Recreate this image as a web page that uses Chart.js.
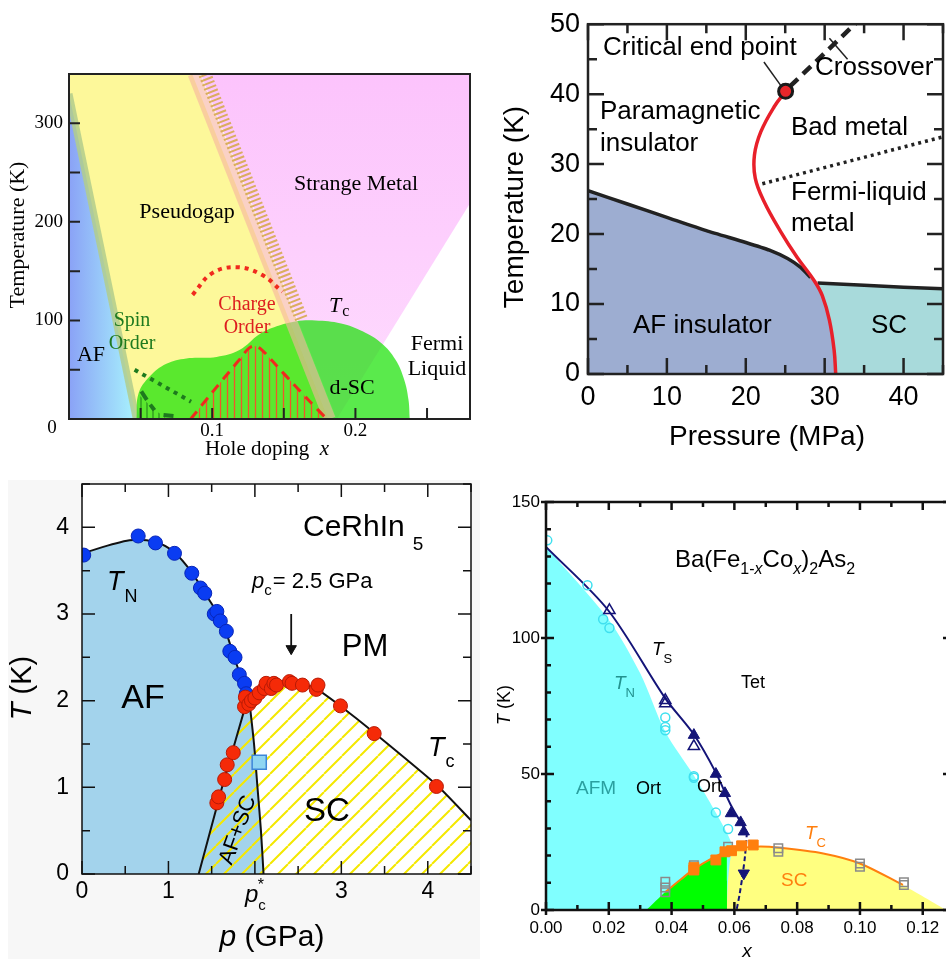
<!DOCTYPE html>
<html>
<head>
<meta charset="utf-8">
<title>Phase diagrams</title>
<script src="https://cdn.jsdelivr.net/npm/chart.js@4.4.1/dist/chart.umd.min.js"></script>
<style>
  html, body { margin: 0; padding: 0; background: #fff; overflow: hidden; }
  #page { position: relative; width: 946px; height: 959px; overflow: hidden; }
  #page canvas { position: absolute; left: 0; top: 0; }
  #grey { position: absolute; left: 8px; top: 480px; width: 472px; height: 479px; background: #f7f7f7; }
</style>
</head>
<body>
<div id="page">
  <div id="grey"></div>
  <canvas id="cuprate" width="960" height="959"></canvas>
  <canvas id="pressure" width="960" height="959"></canvas>
  <canvas id="cerhin" width="960" height="959"></canvas>
  <canvas id="bafeco" width="960" height="959"></canvas>
</div>
<script>
const SERIF = "'Liberation Serif', 'Times New Roman', serif";
const SANS = "'Liberation Sans', Arial, sans-serif";

// ---- top left: cuprates, T vs hole doping ----
const cuAfEdge = [[0, 330], [0.047, 0]];
const cuPseudogap = [[0, 350], [0.086, 350], [0.181, 0]];
const cuStrangeMetal = [[0.092, 350], [0.187, 0], [0.28, 219]];
const cuTstarBand = [[0.087, 350], [0.182, 0]];
const cuTstarHatch = [[0.0948, 350], [0.1627, 100]];
const cuScDome = [[0.047, 0], [0.0486, 26], [0.0563, 43], [0.068, 56], [0.082, 61.5], [0.103, 63], [0.119, 70], [0.133, 86], [0.145, 94], [0.158, 99], [0.172, 100], [0.19, 97], [0.205, 89], [0.218, 77], [0.228, 60], [0.234, 40], [0.237, 20], [0.238, 0]];
const cuChargeOrder = [[0.085, 0], [0.1, 27], [0.112, 48], [0.12, 62], [0.125, 71], [0.129, 74], [0.134, 71], [0.145, 54], [0.157, 35], [0.168, 18], [0.18, 0]];
const cuChargeOnset = [[0.0863, 126], [0.1, 148], [0.1176, 154], [0.135, 146], [0.149, 129]];
const cuSpinDotted = [[0.0458, 50], [0.0852, 17.6]];
const cuSpinDashed = [[0.0505, 28], [0.0555, 17], [0.0597, 9], [0.063, null], [0.066, 4], [0.073, 3]];
const cuSpinGlass = [[0.047, 0], [0.049, 24], [0.055, 16], [0.06, 9], [0.066, 3], [0.068, 0]];

// ---- top right: T vs pressure ----
const ctAfLine = [[0, 26.2], [5, 24.3], [10, 22.4], [15, 20.5], [20, 18.8], [23, 17.7], [25.3, 16.5], [27, 15.2], [28.2, 13.8]];
const ctScLine = [[29.1, 13.0], [35, 12.7], [40, 12.4], [45, 12.2]];
const ctFirstOrder = [[25.05, 40.4], [23.6, 38.2], [21.9, 34.6], [21.1, 31.3], [21.2, 28], [22.3, 24.7], [24.4, 20.4], [26.5, 16.7], [28.7, 13.3], [29.7, 11.2], [30.6, 7.7], [31.2, 3.4], [31.4, 0]];
const ctFermiLiquid = [[22.1, 27.2], [45, 33.9]];
const ctCrossover = [[25.6, 41.1], [34, 50.2]];
const ctEndPoint = [[25.05, 40.4]];
const ctPointerEnd = [[22.3, 44.6], [24.4, 41.3]];
const ctPointerCross = [[32.9, 45.0], [30.6, 48.0]];

// ---- bottom left: CeRhIn5 ----
const ceTnPoints = [[0.02, 3.68], [0.65, 3.9], [0.85, 3.82], [1.07, 3.7], [1.27, 3.47], [1.37, 3.3], [1.42, 3.24], [1.53, 3.0], [1.56, 3.03], [1.6, 2.92], [1.67, 2.8], [1.71, 2.57], [1.77, 2.5], [1.82, 2.3], [1.88, 2.2], [1.9, 2.08]];
const ceTcPoints = [[1.56, 0.82], [1.58, 0.89], [1.65, 1.09], [1.68, 1.26], [1.75, 1.4], [1.88, 1.93], [1.89, 2.04], [1.93, 1.96], [1.96, 2.0], [2.0, 2.03], [2.05, 2.09], [2.11, 2.14], [2.13, 2.2], [2.19, 2.14], [2.22, 2.2], [2.25, 2.18], [2.4, 2.22], [2.43, 2.2], [2.55, 2.18], [2.71, 2.13], [2.73, 2.18], [2.99, 1.94], [3.38, 1.62], [4.1, 1.01]];
const ceTnLine = [[0, 3.7], [0.55, 3.85], [0.85, 3.83], [1.07, 3.71], [1.27, 3.48], [1.42, 3.24], [1.56, 3.02], [1.67, 2.78], [1.76, 2.5], [1.84, 2.27], [1.9, 2.06], [1.94, 1.96]];
const ceAfScEdge = [[1.35, 0], [1.62, 1.0], [1.88, 1.9]];
const cePstarLine = [[1.94, 1.96], [1.99, 1.5], [2.03, 1.0], [2.07, 0.5], [2.1, 0]];
const ceTcLine = [[1.9, 2.02], [2.0, 2.09], [2.12, 2.17], [2.25, 2.21], [2.4, 2.23], [2.55, 2.19], [2.72, 2.13], [3.0, 1.93], [3.38, 1.63], [4.1, 1.03], [4.5, 0.62]];
const ceSquare = [[2.05, 1.29]];
const ceArrow = [[2.42, 3.0], [2.42, 2.6]];
const ceArrowHead = [[2.42, 2.6]];

// ---- bottom right: Ba(Fe1-xCox)2As2 ----
const bcTnOpen = [[0.0004, 135.9], [0.0132, 119.4], [0.0182, 106.9], [0.0202, 103.7], [0.038, 70.8], [0.038, 67.3], [0.038, 66.1], [0.0471, 49.2], [0.0471, 48.6], [0.0541, 35.8], [0.058, 29.8]];
const bcTsOpen = [[0.0202, 110.2], [0.038, 77.1], [0.038, 75.9], [0.0471, 60.2]];
const bcTsFilled = [[0.0471, 64.3], [0.0541, 50.0], [0.057, 42.9], [0.0589, 35.5], [0.062, 32.2], [0.063, 28.8]];
const bcTsDown = [[0.063, 13.5]];
const bcTcFilled = [[0.0471, 15.6], [0.0471, 14.7], [0.0541, 18.4], [0.057, 21.4], [0.0591, 21.8], [0.0623, 23.6], [0.066, 23.9]];
const bcTcOpen = [[0.038, 10.4], [0.038, 8.3], [0.038, 6.5], [0.0471, 16.5], [0.0471, 14.7], [0.058, 23.3], [0.074, 22.7], [0.074, 21.4], [0.1, 17.1], [0.1, 15.9], [0.114, 10.2], [0.114, 9.2]];
const bcTsLine = [[0, 133.5], [0.0198, 110.2], [0.038, 77.8], [0.0471, 64.5], [0.0541, 50.5], [0.0589, 38.5], [0.064, 28.5]];
const bcTsDashed = [[0.064, 28.5], [0.0634, 20], [0.0627, 13.5], [0.0617, 6], [0.0607, 0]];
const bcTcLine = [[0.0379, 6.5], [0.043, 11.3], [0.0471, 15], [0.0527, 18.9], [0.0586, 22], [0.0671, 23.3], [0.0745, 22.9], [0.0883, 20.8], [0.1, 17.1], [0.1137, 9.2]];
const bcAfmEdge = [[0, 133.5], [0.0198, 107], [0.03, 87], [0.038, 65.5], [0.047, 49.6], [0.053, 38], [0.058, 27.5], [0.0596, 22], [0.0596, 0]];
const bcScEdge = [[0.0576, 0], [0.058, 11], [0.0596, 22], [0.0671, 23.3], [0.0745, 22.9], [0.0883, 20.8], [0.1, 17.1], [0.1137, 9.2], [0.1275, 0]];
const bcGreen = [[0.032, 0], [0.0379, 6.5], [0.043, 11.3], [0.0471, 15], [0.0527, 18.9], [0.0596, 22], [0.058, 11], [0.0576, 0]];

// =====================================================================

const pts = a => a.map(([x, y]) => ({ x, y }));
const near = (v, t) => Math.abs(v - t) < 1e-9;

function area(data, color, fill = 'origin', extra = {}) {
  return { data: pts(data), backgroundColor: color, borderColor: 'transparent', borderWidth: 0, pointRadius: 0, fill, tension: 0, clip: 0, ...extra };
}
function curve(data, color, width, extra = {}) {
  return { data: pts(data), borderColor: color, borderWidth: width, pointRadius: 0, fill: false, tension: 0, clip: 0, ...extra };
}
function marks(data, style, radius, fillColor, edgeColor, edge, extra = {}) {
  return { data: pts(data), showLine: false, pointStyle: style, pointRadius: radius, backgroundColor: fillColor, borderColor: edgeColor, borderWidth: edge, clip: 0, ...extra };
}

function tile(w, h, color, lw, diag) {
  const c = document.createElement('canvas');
  c.width = w; c.height = h;
  const g = c.getContext('2d');
  g.strokeStyle = color; g.lineWidth = lw;
  g.beginPath();
  if (diag) {
    for (const k of [-w, 0, w]) { g.moveTo(k, h); g.lineTo(k + w, 0); }
  } else {
    g.moveTo(w / 2, 0); g.lineTo(w / 2, h);
  }
  g.stroke();
  return c;
}
const pattern = t => ctx => ctx.chart.ctx.createPattern(t, 'repeat');

function hGradient(x0, x1, c0, c1) {
  return ctx => {
    const ch = ctx.chart;
    if (!ch.chartArea) return c0;
    const sx = ch.scales.x;
    const g = ch.ctx.createLinearGradient(sx.getPixelForValue(x0), 0, sx.getPixelForValue(x1), 0);
    g.addColorStop(0, c0); g.addColorStop(1, c1);
    return g;
  };
}
function vGradient(y0, y1, c0, c1) {
  return ctx => {
    const ch = ctx.chart;
    if (!ch.chartArea) return c0;
    const sy = ch.scales.y;
    const g = ch.ctx.createLinearGradient(0, sy.getPixelForValue(y0), 0, sy.getPixelForValue(y1));
    g.addColorStop(0, c0); g.addColorStop(1, c1);
    return g;
  };
}

// frame with inward ticks, drawn from the scale ticks
const framePlugin = {
  id: 'frame',
  beforeDraw(chart, args, o) {
    if (!o.bg) return;
    const { ctx, chartArea: a } = chart;
    ctx.save();
    ctx.fillStyle = o.bg;
    ctx.fillRect(a.left, a.top, a.width, a.height);
    ctx.restore();
  },
  afterDatasetsDraw(chart, args, o) {
    if (!o.width) return;
    const { ctx, chartArea: a, scales: { x, y } } = chart;
    const isMajor = (v, step) => Math.abs(v / step - Math.round(v / step)) < 1e-6;
    ctx.save();
    ctx.strokeStyle = o.color;
    ctx.lineWidth = o.tickWidth || o.width;
    ctx.beginPath();
    for (const t of x.ticks) {
      const p = x.getPixelForValue(t.value);
      const big = isMajor(t.value, o.xMajor);
      const len = big ? o.major : o.minor;
      const out = big ? (o.out || 0) : 0;
      ctx.moveTo(p, a.bottom + out); ctx.lineTo(p, a.bottom - len);
      if (o.mirror) { ctx.moveTo(p, a.top); ctx.lineTo(p, a.top + len); }
    }
    for (const t of y.ticks) {
      const p = y.getPixelForValue(t.value);
      const big = isMajor(t.value, o.yMajor);
      const len = big ? o.major : o.minor;
      const out = big ? (o.out || 0) : 0;
      ctx.moveTo(a.left - out, p); ctx.lineTo(a.left + len, p);
      if (o.mirror && (big || !o.rightMajorOnly)) { ctx.moveTo(a.right + out, p); ctx.lineTo(a.right - len, p); }
    }
    ctx.stroke();
    ctx.lineWidth = o.width;
    ctx.strokeRect(a.left, a.top, a.width, a.height);
    ctx.restore();
  }
};

// rich text labels: parts are [text, font, dy, dx]
const notesPlugin = {
  id: 'notes',
  afterDraw(chart, args, o) {
    const ctx = chart.ctx;
    for (const n of o.items || []) {
      ctx.save();
      ctx.fillStyle = n.color || '#000';
      ctx.textBaseline = 'middle';
      let w = 0;
      const parts = n.parts.map(([t, f, dy = 0, dx = 0]) => {
        ctx.font = f;
        const pw = ctx.measureText(t).width;
        w += pw + dx;
        return { t, f, dy, dx, pw };
      });
      ctx.translate(n.x, n.y);
      if (n.rot) ctx.rotate(n.rot * Math.PI / 180);
      let x = n.align === 'left' ? 0 : -w / 2;
      for (const p of parts) {
        x += p.dx;
        ctx.font = p.f;
        ctx.fillText(p.t, x, p.dy);
        x += p.pw;
      }
      ctx.restore();
    }
  }
};
Chart.register(framePlugin, notesPlugin);

function lin(min, max, step, label, font, pad) {
  return {
    type: 'linear', min, max,
    border: { display: false },
    grid: { display: false, drawTicks: false },
    ticks: { stepSize: step, includeBounds: false, autoSkip: false, maxRotation: 0, padding: pad, color: '#000', font, callback: label }
  };
}

const AXIS_H = 40;
function makeChart(id, area, xs, ys, datasets, frame, notes) {
  const axisW = Math.min(area[0], 80);
  xs.afterFit = s => { s.height = AXIS_H; };
  ys.afterFit = s => { s.width = axisW; };
  return new Chart(document.getElementById(id), {
    type: 'line',
    data: { datasets: datasets.reverse() },
    options: {
      responsive: false,
      animation: false,
      events: [],
      layout: { padding: { left: area[0] - axisW, top: area[1], right: 960 - area[2], bottom: 959 - area[3] - AXIS_H } },
      plugins: { legend: { display: false }, tooltip: { enabled: false }, frame, notes: { items: notes } },
      scales: { x: xs, y: ys }
    }
  });
}

const txt = (x, y, s, font, color = '#000', align = 'center', rot = 0) => ({ x, y, parts: [[s, font]], color, align, rot });

// ---------------- top left ----------------
const cuSerif = size => `${size}px ${SERIF}`;
makeChart('cuprate', [69, 74, 470, 419],
  lin(0, 0.28, 0.05, v => near(v, 0.1) ? '0.1' : near(v, 0.2) ? '0.2' : '', { family: SERIF, size: 19 }, 1),
  lin(0, 350, 50, v => v > 0 && v % 100 === 0 ? v : '', { family: SERIF, size: 19 }, 6),
  [
    area(cuPseudogap, '#fdf89a'),
    area(cuStrangeMetal, vGradient(350, 0, '#fcc3fc', '#fedcfe'), 'end'),
    area(cuAfEdge, hGradient(0, 0.047, '#8aa2f6', '#a8f3fd')),
    curve(cuAfEdge, 'rgba(178,204,140,0.85)', 7),
    area(cuScDome, 'rgba(20,225,0,0.7)', 'origin', { tension: 0.4 }),
    area(cuSpinGlass, pattern(tile(6, 6, 'rgba(25,110,25,0.75)', 1.2))),
    area(cuChargeOrder, pattern(tile(7, 6, '#f2552a', 1.3)), 'origin', { tension: 0.3 }),
    curve(cuTstarBand, 'rgba(246,178,160,0.6)', 12),
    curve(cuTstarHatch, 'rgba(214,170,80,0.9)', 13, { borderDash: [2, 2.5] }),
    curve(cuChargeOrder, '#f02a1e', 3, { borderDash: [10, 7], tension: 0.3 }),
    curve(cuChargeOnset, '#f02a1e', 4, { borderDash: [4, 5], tension: 0.4 }),
    curve(cuSpinDotted, '#1e7a1e', 4, { borderDash: [4, 5] }),
    curve(cuSpinDashed, '#1e7a1e', 4, { borderDash: [10, 6], tension: 0.3 })
  ],
  { width: 2, color: '#222', major: 11, minor: 11, xMajor: 0.1, yMajor: 100 },
  [
    txt(356, 184, 'Strange Metal', cuSerif(22)),
    txt(187, 212, 'Pseudogap', cuSerif(22)),
    txt(91, 355, 'AF', cuSerif(22)),
    txt(132, 321, 'Spin', cuSerif(20), '#1e7a1e'),
    txt(132, 344, 'Order', cuSerif(20), '#1e7a1e'),
    txt(247, 305, 'Charge', cuSerif(20), '#dd1f1f'),
    txt(247, 328, 'Order', cuSerif(20), '#dd1f1f'),
    { x: 329, y: 306, align: 'left', parts: [['T', `italic ${cuSerif(22)}`], ['c', cuSerif(16), 6, 1]] },
    txt(437, 344, 'Fermi', cuSerif(22)),
    txt(437, 369, 'Liquid', cuSerif(22)),
    txt(352, 388, 'd-SC', cuSerif(22)),
    txt(52, 428, '0', cuSerif(19)),
    txt(18, 235, 'Temperature (K)', cuSerif(22), '#000', 'center', -90),
    { x: 267, y: 449, parts: [['Hole doping  ', cuSerif(21)], ['x', `italic ${cuSerif(21)}`]] }
  ]);

// ---------------- top right ----------------
const ctSans = size => `${size}px ${SANS}`;
makeChart('pressure', [588, 22, 943, 374],
  lin(0, 45, 5, v => v % 10 === 0 ? v : '', { family: SANS, size: 27 }, 7),
  lin(0, 50, 5, v => v % 10 === 0 ? v : '', { family: SANS, size: 27 }, 8),
  [
    area(ctFirstOrder.slice(8, 9).concat(ctScLine), '#a8dadb'),
    area(ctAfLine.concat(ctFirstOrder.slice(8)), '#9dadd1', 'origin', { tension: 0.2 }),
    curve(ctAfLine, '#222', 3.5, { tension: 0.2 }),
    curve(ctScLine, '#222', 3.5),
    curve(ctFermiLiquid, '#222', 3.5, { borderDash: [3, 4] }),
    curve(ctCrossover, '#222', 4.5, { borderDash: [11, 7] }),
    curve(ctPointerEnd, '#222', 1.5),
    curve(ctPointerCross, '#222', 1.5),
    curve(ctFirstOrder, '#e8202a', 3.5, { tension: 0.4 }),
    marks(ctEndPoint, 'circle', 7, '#e8262a', '#1a1a1a', 3)
  ],
  { width: 2.5, color: '#222', major: 16, minor: 9, mirror: true, xMajor: 10, yMajor: 10 },
  [
    txt(603, 48, 'Critical end point', ctSans(26), '#000', 'left'),
    txt(815, 68, 'Crossover', ctSans(26), '#000', 'left'),
    txt(600, 112, 'Paramagnetic', ctSans(26), '#000', 'left'),
    txt(600, 144, 'insulator', ctSans(26), '#000', 'left'),
    txt(791, 128, 'Bad metal', ctSans(26), '#000', 'left'),
    txt(791, 193, 'Fermi-liquid', ctSans(26), '#000', 'left'),
    txt(791, 224, 'metal', ctSans(26), '#000', 'left'),
    txt(633, 326, 'AF insulator', ctSans(26), '#000', 'left'),
    txt(871, 326, 'SC', ctSans(26), '#000', 'left'),
    txt(515, 207, 'Temperature (K)', ctSans(28), '#000', 'center', -90),
    txt(767, 437, 'Pressure (MPa)', ctSans(28))
  ]);

// ---------------- bottom left ----------------
makeChart('cerhin', [82, 484, 471, 874],
  lin(0, 4.5, 0.5, v => [0, 1, 3, 4].some(t => near(v, t)) ? String(Math.round(v)) : '', { family: SANS, size: 23 }, 4),
  lin(0, 4.5, 0.5, v => near(v, Math.round(v)) ? String(Math.round(v)) : '', { family: SANS, size: 23 }, 13),
  [
    area(ceTnLine.concat(cePstarLine.slice(1)), '#a3d3ec', 'origin', { tension: 0.2 }),
    area(ceAfScEdge.concat(ceTcLine), pattern(tile(18, 18, '#f4e800', 2, true)), 'origin', { tension: 0.2 }),
    curve(ceTnLine, '#111', 2, { tension: 0.3 }),
    curve(ceAfScEdge, '#111', 2),
    curve(cePstarLine, '#111', 2, { tension: 0.3 }),
    curve(ceTcLine, '#111', 2, { tension: 0.2 }),
    curve(ceArrow, '#111', 1.8),
    marks(ceArrowHead, 'triangle', 6, '#111', '#111', 1, { pointRotation: 180 }),
    marks(ceTnPoints, 'circle', 7, '#0a3cf2', '#0826b8', 1),
    marks(ceTcPoints, 'circle', 7, '#f52a08', '#b81a05', 1),
    marks(ceSquare, 'rect', 10, '#8fd6f2', '#3d86d8', 1.5)
  ],
  { bg: '#fff', width: 1.5, color: '#111', major: 13, minor: 8, mirror: true, xMajor: 1, yMajor: 1 },
  [
    { x: 303, y: 528, align: 'left', parts: [['CeRhIn', ctSans(30)], ['5', ctSans(19), 17, 8]] },
    { x: 107, y: 582, align: 'left', parts: [['T', `italic ${ctSans(27)}`], ['N', ctSans(18), 15, 1]] },
    { x: 252, y: 582, align: 'left', parts: [['p', `italic ${ctSans(22)}`], ['c', ctSans(15), 9], ['= 2.5 GPa', ctSans(22), 0, 1]] },
    txt(365, 647, 'PM', ctSans(31)),
    txt(143, 699, 'AF', ctSans(34)),
    txt(327, 812, 'SC', ctSans(33)),
    { x: 428, y: 748, align: 'left', parts: [['T', `italic ${ctSans(27)}`], ['c', ctSans(18), 14, 1]] },
    txt(238, 830, 'AF+SC', ctSans(22), '#000', 'center', -70),
    { x: 245, y: 895, align: 'left', parts: [['p', `italic ${ctSans(24)}`], ['c', ctSans(15), 11], ['*', ctSans(16), -9, -8]] },
    { x: 272, y: 938, parts: [['p', `italic ${ctSans(30)}`], [' (GPa)', ctSans(30)]] },
    { x: 23, y: 688, rot: -90, parts: [['T', `italic ${ctSans(29)}`], [' (K)', ctSans(29)]] }
  ]);

// ---------------- bottom right ----------------
const bcTeal = '#22928f';
const bcOrange = '#ff7f0e';
makeChart('bafeco', [546, 502, 951, 910],
  lin(0, 0.129, 0.01, v => Math.round(v * 100) % 2 === 0 ? v.toFixed(2) : '', { family: SANS, size: 17 }, 8),
  lin(0, 150, 10, v => v % 50 === 0 ? v : '', { family: SANS, size: 17 }, 6),
  [
    area(bcAfmEdge, '#80ffff', 'origin', { tension: 0.3 }),
    area(bcScEdge, '#ffff80', 'origin', { tension: 0.2 }),
    area(bcGreen, '#00ff00', 'origin', { tension: 0.2 }),
    curve(bcTsLine, '#141478', 2, { tension: 0.3 }),
    curve(bcTsDashed, '#141478', 2, { borderDash: [5, 3], tension: 0.3 }),
    curve(bcTcLine, bcOrange, 2, { tension: 0.3 }),
    marks(bcTnOpen, 'circle', 4.5, 'rgba(0,0,0,0)', '#3fe0ef', 1.5),
    marks(bcTcOpen, 'rect', 6, 'rgba(0,0,0,0)', '#8a8a8a', 1.5),
    marks(bcTsOpen, 'triangle', 6.5, 'rgba(0,0,0,0)', '#141478', 1.5),
    marks(bcTsFilled, 'triangle', 6.5, '#141478', '#141478', 1),
    marks(bcTsDown, 'triangle', 6.5, '#141478', '#141478', 1, { pointRotation: 180 }),
    marks(bcTcFilled, 'rect', 7, bcOrange, bcOrange, 1)
  ],
  { width: 2.5, color: '#111', major: 8, minor: 5, out: 5, mirror: true, rightMajorOnly: true, xMajor: 0.02, yMajor: 50 },
  [
    { x: 675, y: 560, align: 'left', parts: [['Ba(Fe', ctSans(24)], ['1-', ctSans(16), 10], ['x', `italic ${ctSans(16)}`, 10], ['Co', ctSans(24)], ['x', `italic ${ctSans(16)}`, 10], [')', ctSans(24)], ['2', ctSans(16), 10], ['As', ctSans(24)], ['2', ctSans(16), 10]] },
    { x: 652, y: 650, align: 'left', parts: [['T', `italic ${ctSans(19)}`], ['S', ctSans(13), 9]] },
    { x: 614, y: 684, align: 'left', color: bcTeal, parts: [['T', `italic ${ctSans(19)}`], ['N', ctSans(13), 9]] },
    txt(741, 683, 'Tet', ctSans(18), '#000', 'left'),
    txt(576, 789, 'AFM', ctSans(19), '#2aa0a0', 'left'),
    txt(636, 789, 'Ort', ctSans(18), '#000', 'left'),
    txt(697, 787, 'Ort', ctSans(18), '#000', 'left'),
    { x: 805, y: 834, align: 'left', color: bcOrange, parts: [['T', `italic ${ctSans(19)}`], ['C', ctSans(13), 9]] },
    txt(781, 881, 'SC', ctSans(19), bcOrange, 'left'),
    txt(747, 952, 'x', `italic ${ctSans(19)}`),
    { x: 505, y: 705, rot: -90, parts: [['T', `italic ${ctSans(18)}`], [' (K)', ctSans(18)]] }
  ]);
</script>
</body>
</html>
